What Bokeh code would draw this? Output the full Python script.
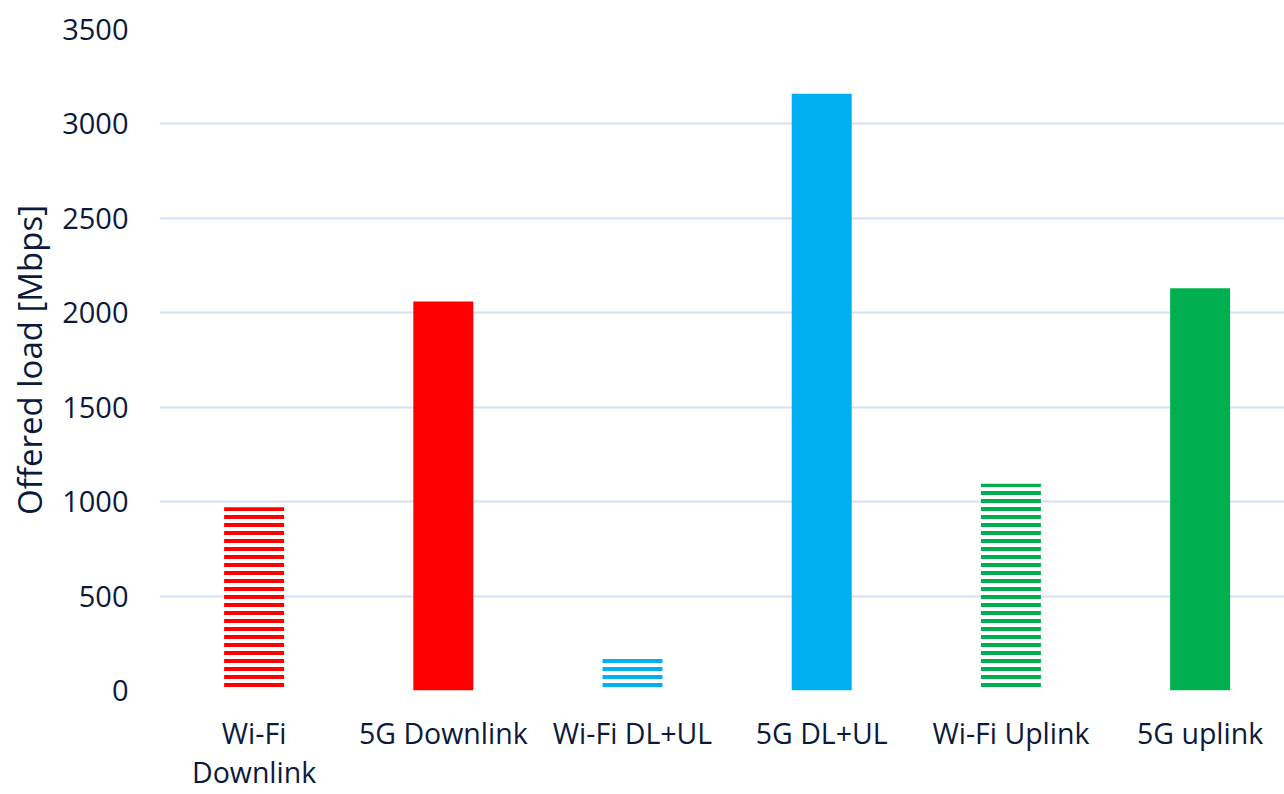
from bokeh.plotting import figure
from bokeh.models import Range1d, FixedTicker, ColumnDataSource
from bokeh.embed import file_html
from bokeh.resources import INLINE

# Offered load per access technology / traffic direction
categories = ["Wi-Fi\nDownlink", "5G Downlink", "Wi-Fi DL+UL", "5G DL+UL", "Wi-Fi Uplink", "5G uplink"]
offered_load = [970, 2060, 170, 3160, 1095, 2130]
bar_colors = ["#FF0000", "#FF0000", "#00B0F0", "#00B0F0", "#00B050", "#00B050"]
hatched = [True, False, True, False, True, False]
y_ticks = [0, 500, 1000, 1500, 2000, 2500, 3000, 3500]

TEXT = "#0b1a3c"
FONT = "Open Sans"

x_pos = [i + 0.5 for i in range(len(categories))]

solid = ColumnDataSource(dict(
    x=[x for x, h in zip(x_pos, hatched) if not h],
    top=[v for v, h in zip(offered_load, hatched) if not h],
    color=[c for c, h in zip(bar_colors, hatched) if not h],
))
striped = ColumnDataSource(dict(
    x=[x for x, h in zip(x_pos, hatched) if h],
    top=[v for v, h in zip(offered_load, hatched) if h],
    color=[c for c, h in zip(bar_colors, hatched) if h],
))

p = figure(
    width=1284, height=794,
    x_range=Range1d(0, 5.946), y_range=Range1d(0, 3500),
    output_backend="svg", toolbar_location=None,
    min_border_left=159, min_border_right=0,
    min_border_top=29, min_border_bottom=103,
)
p.outline_line_color = None
p.background_fill_color = "white"
p.border_fill_color = "white"

p.xgrid.visible = False
p.ygrid.ticker = FixedTicker(ticks=y_ticks)
p.ygrid.grid_line_color = "#d4e0f4"
p.ygrid.grid_line_width = 2

BAR_W = 0.317
p.vbar(x="x", top="top", bottom=0, width=BAR_W, source=solid,
       fill_color="color", line_color=None)
p.vbar(x="x", top="top", bottom=0, width=BAR_W, source=striped,
       fill_color=None, line_color=None,
       hatch_pattern="horizontal_line", hatch_scale=8, hatch_weight=4,
       hatch_color="color")

yax = p.yaxis[0]
yax.ticker = FixedTicker(ticks=y_ticks)
yax.axis_line_color = None
yax.major_tick_line_color = None
yax.minor_tick_line_color = None
yax.major_tick_out = 0
yax.major_label_standoff = 31
yax.major_label_text_font = FONT
yax.major_label_text_font_size = "29px"
yax.major_label_text_color = TEXT
yax.axis_label = "Offered load [Mbps]"
yax.axis_label_text_font = FONT
yax.axis_label_text_font_size = "33px"
yax.axis_label_text_font_style = "normal"
yax.axis_label_text_color = TEXT
yax.axis_label_standoff = 7

xax = p.xaxis[0]
xax.ticker = FixedTicker(ticks=x_pos)
xax.major_label_overrides = {x: c for x, c in zip(x_pos, categories)}
xax.axis_line_color = None
xax.major_tick_line_color = None
xax.minor_tick_line_color = None
xax.major_tick_out = 0
xax.major_label_standoff = 23
xax.major_label_text_font = FONT
xax.major_label_text_font_size = "28.5px"
xax.major_label_text_line_height = 1.04
xax.major_label_text_color = TEXT

with open("out.html", "w") as f:
    f.write(file_html(p, INLINE))
